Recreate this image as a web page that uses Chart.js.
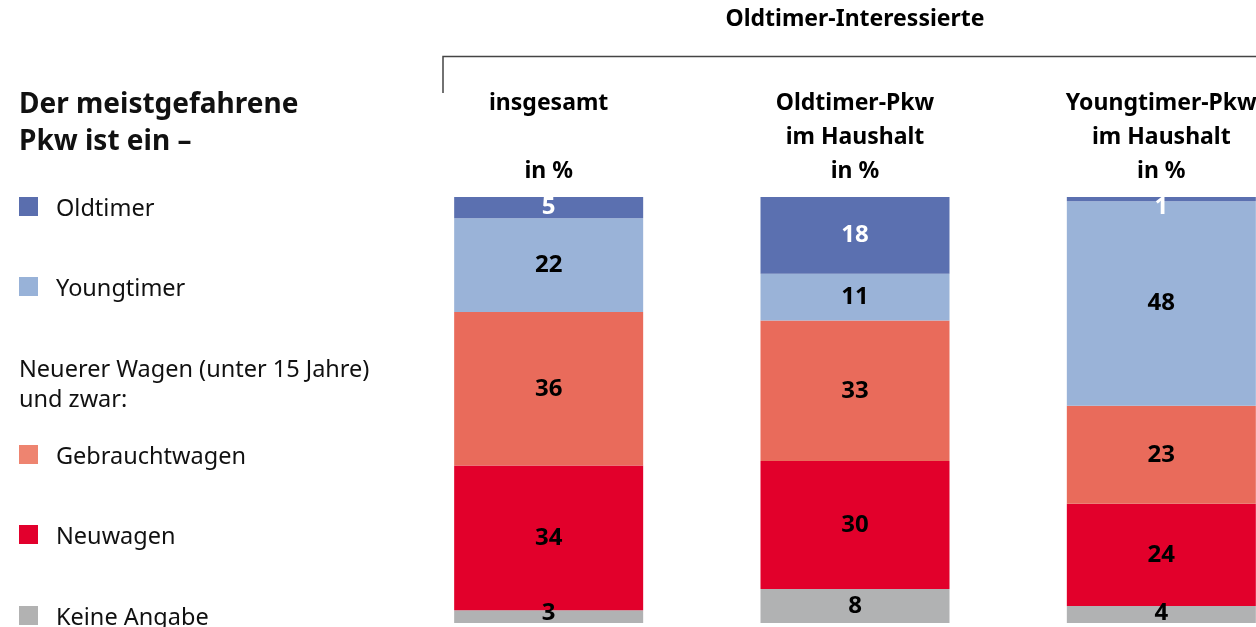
<!DOCTYPE html>
<html lang="de">
<head>
<meta charset="utf-8">
<title>Der meistgefahrene Pkw</title>
<script src="https://cdn.jsdelivr.net/npm/chart.js@4.4.1/dist/chart.umd.min.js"></script>
<style>
  html, body { margin: 0; padding: 0; background: #fff; overflow: hidden; }
  #wrap { position: relative; width: 1256px; height: 627px; overflow: hidden; }
  #chart { position: absolute; left: 0; top: 0; }
  .legende { position: absolute; left: 0; top: 0; font-family: "Noto Sans", sans-serif; color: #111; }
  .titel { position: absolute; left: 19px; top: 84px; font-size: 28px; font-weight: bold; line-height: 37px; white-space: nowrap; }
  .eintrag { position: absolute; left: 19px; font-size: 23.5px; line-height: 30px; white-space: nowrap; }
  .eintrag span.box { position: absolute; left: 0; top: 0; width: 19px; height: 19px; }
  .eintrag span.txt { position: absolute; left: 37px; top: -5px; }
  .hinweis { position: absolute; left: 19px; top: 353px; font-size: 23.5px; line-height: 30px; white-space: nowrap; }
</style>
</head>
<body>
<div id="wrap">
  <canvas id="chart" width="1330" height="627"></canvas>
  <div class="legende" id="legende">
    <div class="titel">Der meistgefahrene<br>Pkw ist ein –</div>
    <div class="hinweis">Neuerer Wagen (unter 15 Jahre)<br>und zwar:</div>
  </div>
</div>
<script>
// Daten
var gruppen = [
  ["insgesamt", "", "in %"],
  ["Oldtimer-Pkw", "im Haushalt", "in %"],
  ["Youngtimer-Pkw", "im Haushalt", "in %"]
];
var kategorien = ["Oldtimer", "Youngtimer", "Gebrauchtwagen", "Neuwagen", "Keine Angabe"];
var oldtimer = [5, 18, 1];
var youngtimer = [22, 11, 48];
var gebrauchtwagen = [36, 33, 23];
var neuwagen = [34, 30, 24];
var keineAngabe = [3, 8, 4];

var barFarben = ["#5b70b0", "#9ab3d8", "#e96b5b", "#e2002b", "#b1b2b3"];
var legendeFarben = ["#5a6eae", "#98b2d8", "#ee8470", "#e2002d", "#b2b2b2"];
var legendeY = [197, 277, 445, 525, 606];

// Legende links
var legende = document.getElementById("legende");
kategorien.forEach(function (name, i) {
  var div = document.createElement("div");
  div.className = "eintrag";
  div.style.top = legendeY[i] + "px";
  div.innerHTML = '<span class="box" style="background:' + legendeFarben[i] + '"></span><span class="txt">' + name + "</span>";
  legende.appendChild(div);
});

// Werte in die Balken schreiben
var werteLabels = {
  id: "werteLabels",
  afterDatasetsDraw: function (chart) {
    var ctx = chart.ctx;
    var letzte = chart.data.datasets.length - 1;
    ctx.save();
    ctx.font = "bold 24px 'Noto Sans', sans-serif";
    ctx.textAlign = "center";
    ctx.textBaseline = "middle";
    chart.data.datasets.forEach(function (ds, di) {
      var meta = chart.getDatasetMeta(di);
      meta.data.forEach(function (bar, i) {
        var p = bar.getProps(["x", "y", "base"], true);
        var oben = Math.min(p.y, p.base);
        var unten = Math.max(p.y, p.base);
        var y = (oben + unten) / 2;
        if (di === 0) y = Math.max(y, oben + 10);
        if (di === letzte) y = Math.min(y, unten - 10);
        ctx.fillStyle = di === 0 ? "#ffffff" : "#000000";
        ctx.fillText(ds.data[i], p.x, y);
      });
    });
    ctx.restore();
  }
};

// Klammer über den Gruppen
var klammer = {
  id: "klammer",
  afterDraw: function (chart) {
    var ctx = chart.ctx;
    ctx.save();
    ctx.strokeStyle = "#444444";
    ctx.lineWidth = 1.5;
    ctx.beginPath();
    ctx.moveTo(443, 93);
    ctx.lineTo(443, 56.5);
    ctx.lineTo(chart.width, 56.5);
    ctx.stroke();
    ctx.restore();
  }
};

var datenreihen = [oldtimer, youngtimer, gebrauchtwagen, neuwagen, keineAngabe];

new Chart(document.getElementById("chart"), {
  type: "bar",
  data: {
    labels: gruppen,
    datasets: datenreihen.map(function (werte, i) {
      return {
        label: kategorien[i],
        data: werte,
        backgroundColor: barFarben[i],
        borderWidth: 0,
        barPercentage: 0.617,
        categoryPercentage: 1
      };
    })
  },
  options: {
    responsive: false,
    animation: false,
    layout: { padding: { left: 395.5, right: 15.5, top: 0, bottom: 4 } },
    plugins: {
      legend: { display: false },
      tooltip: { enabled: false }
    },
    scales: {
      x: {
        stacked: true,
        position: "top",
        grid: { display: false, drawTicks: false },
        border: { display: false },
        ticks: {
          color: "#000",
          padding: 9,
          autoSkip: false,
          maxRotation: 0,
          font: { family: "'Noto Sans', sans-serif", size: 23, weight: "bold", lineHeight: 34 / 23 }
        },
        title: {
          display: true,
          text: "Oldtimer-Interessierte",
          color: "#000",
          padding: { top: 6, bottom: 0 },
          font: { family: "'Noto Sans', sans-serif", size: 23, weight: "bold", lineHeight: 1.2 }
        },
        afterFit: function (scale) {
          scale.height = 197;
        }
      },
      y: {
        stacked: true,
        reverse: true,
        display: false,
        min: 0,
        max: 100
      }
    }
  },
  plugins: [werteLabels, klammer]
});
</script>
</body>
</html>
